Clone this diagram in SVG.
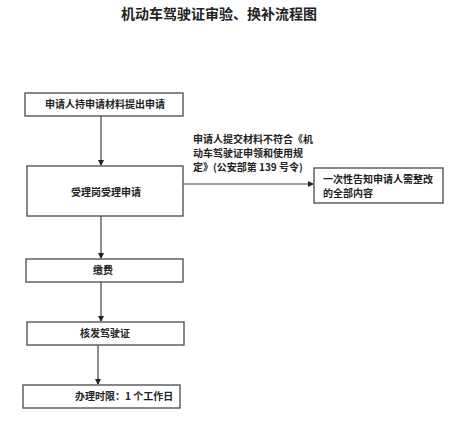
<svg xmlns="http://www.w3.org/2000/svg" width="449" height="421" viewBox="0 0 449 421">
<defs>
<marker id="arr" markerWidth="6" markerHeight="6" refX="5" refY="3" orient="auto" markerUnits="userSpaceOnUse">
<path d="M0,0 L6,3 L0,6 Z" fill="#222"/>
</marker>
<style>
.box{fill:#fff;stroke:#555;stroke-width:1.4}
.t{font-family:"Noto Sans CJK SC","Liberation Sans",sans-serif;font-weight:bold;font-size:10px;fill:#222}
.title{font-family:"Noto Sans CJK SC","Liberation Sans",sans-serif;font-weight:bold;font-size:14px;fill:#222}
.c{fill:none;stroke:#444;stroke-width:1.2}
</style>
</defs>
<rect width="449" height="421" fill="#fff"/>
<text class="title" x="219" y="19" text-anchor="middle">机动车驾驶证审验、换补流程图</text>
<g id="connectors">
<line class="c" x1="101" y1="116" x2="101" y2="165" marker-end="url(#arr)"/>
<line class="c" x1="101" y1="216" x2="101" y2="258" marker-end="url(#arr)"/>
<line class="c" x1="101" y1="282" x2="101" y2="321" marker-end="url(#arr)"/>
<line class="c" x1="98" y1="345" x2="98" y2="384" marker-end="url(#arr)"/>
<line class="c" x1="183" y1="184" x2="313" y2="184" marker-end="url(#arr)"/>
<text class="t" x="193" y="143">申请人提交材料不符合《机</text>
<text class="t" x="193" y="157">动车驾驶证申领和使用规</text>
<text class="t" x="193" y="171">定》(公安部第 139 号令)</text>
</g>
<g id="n1"><rect class="box" x="25" y="93" width="158" height="23"/><text class="t" x="105" y="108" text-anchor="middle">申请人持申请材料提出申请</text></g>
<g id="n2"><rect class="box" x="27" y="166" width="156" height="50"/><text class="t" x="106" y="196" text-anchor="middle">受理岗受理申请</text></g>
<g id="n3"><rect class="box" x="26" y="259" width="157" height="23"/><text class="t" x="103" y="274" text-anchor="middle">缴费</text></g>
<g id="n4"><rect class="box" x="27" y="322" width="157" height="23"/><text class="t" x="105" y="337" text-anchor="middle">核发驾驶证</text></g>
<g id="n5"><rect class="box" x="23" y="385" width="157" height="23"/><text class="t" x="75" y="400">办理时限：1 个工作日</text></g>
<g id="n6"><rect class="box" x="314" y="168" width="129" height="35"/><text class="t" x="323" y="183">一次性告知申请人需整改</text><text class="t" x="323" y="197">的全部内容</text></g>
</svg>
